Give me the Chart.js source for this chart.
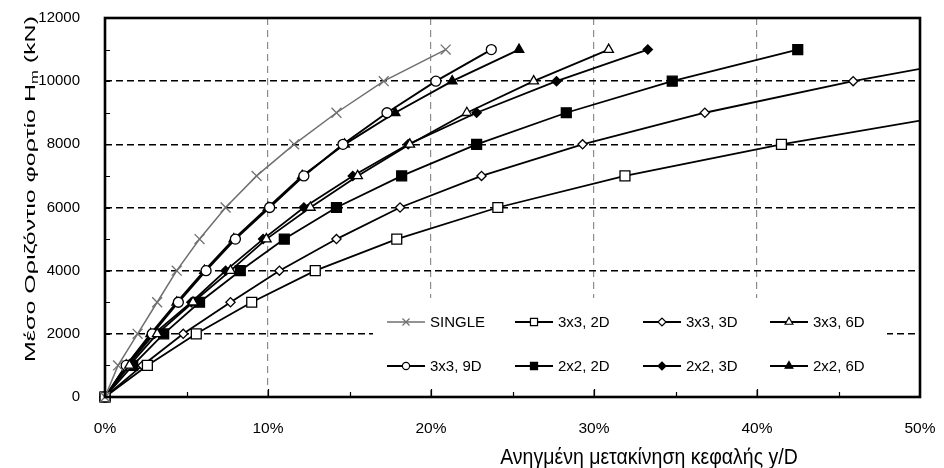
<!DOCTYPE html>
<html>
<head>
<meta charset="utf-8">
<script src="https://cdn.jsdelivr.net/npm/chart.js@4.4.1/dist/chart.umd.min.js"></script>
<style>
  html, body { margin: 0; padding: 0; background: #fff; }
  #wrap { width: 944px; height: 468px; }
</style>
</head>
<body>
<div id="wrap"><canvas id="chart" width="944" height="468"></canvas></div>
<script>
// horizontal load levels (kN) and normalised head displacement y/D (%) for each group
const loads = [0, 1000, 2000, 3000, 4000, 5000, 6000, 7000, 8000, 9000, 10000, 11000];
const single = [0, 0.8, 2.0, 3.2, 4.4, 5.8, 7.4, 9.3, 11.6, 14.2, 17.1, 20.9];
const g3x3_2D = [0, 2.6, 5.6, 9.0, 12.9, 17.9, 24.1, 31.9, 41.5, 52.8];
const g3x3_3D = [0, 2.3, 4.8, 7.7, 10.7, 14.2, 18.1, 23.1, 29.3, 36.8, 45.9, 56.5];
const g3x3_6D = [0, 1.5, 3.2, 5.4, 7.7, 9.9, 12.6, 15.5, 18.7, 22.2, 26.3, 30.9];
const g3x3_9D = [0, 1.3, 2.9, 4.5, 6.2, 8.0, 10.1, 12.2, 14.6, 17.3, 20.3, 23.7];
const g2x2_2D = [0, 1.7, 3.6, 5.8, 8.3, 11.0, 14.2, 18.2, 22.8, 28.3, 34.8, 42.5];
const g2x2_3D = [0, 1.4, 3.0, 5.3, 7.4, 9.7, 12.2, 15.2, 18.6, 22.8, 27.7, 33.3];
const g2x2_6D = [0, 1.3, 2.8, 4.4, 6.1, 7.9, 10.0, 12.1, 14.7, 17.8, 21.3, 25.4];

const xTicks = [0, 10, 20, 30, 40, 50];
const yTicks = [0, 2000, 4000, 6000, 8000, 10000, 12000];

const FONT = "'Liberation Sans', Arial, sans-serif";
const GREY = '#6f6f6f';

const series = [
  { label: 'SINGLE', xs: single, shape: 'crossRot', r: 7, lr: 5, color: GREY, fill: GREY, width: 1.5 },
  { label: '3x3, 2D', xs: g3x3_2D, shape: 'rect', r: 7, lr: 5, color: '#000', fill: '#fff', width: 1.8 },
  { label: '3x3, 3D', xs: g3x3_3D, shape: 'rectRot', r: 4.6, lr: 4, color: '#000', fill: '#fff', width: 1.8 },
  { label: '3x3, 6D', xs: g3x3_6D, shape: 'triangle', r: 5.5, lr: 4.5, color: '#000', fill: '#fff', width: 1.8 },
  { label: '3x3, 9D', xs: g3x3_9D, shape: 'circle', r: 5, lr: 3.6, color: '#000', fill: '#fff', width: 1.9 },
  { label: '2x2, 2D', xs: g2x2_2D, shape: 'rect', r: 7, lr: 5, color: '#000', fill: '#000', width: 1.8 },
  { label: '2x2, 3D', xs: g2x2_3D, shape: 'rectRot', r: 4.6, lr: 4, color: '#000', fill: '#000', width: 1.8 },
  { label: '2x2, 6D', xs: g2x2_6D, shape: 'triangle', r: 5.5, lr: 4.5, color: '#000', fill: '#000', width: 1.9 },
];

const datasets = series.map((s) => ({
  label: s.label,
  data: s.xs.map((x, i) => ({ x, y: loads[i] })),
  borderColor: s.color,
  borderWidth: s.width,
  backgroundColor: s.fill,
  pointStyle: s.shape,
  pointRadius: s.r,
  pointBackgroundColor: s.fill,
  pointBorderColor: s.color,
  pointBorderWidth: 1.3,
  tension: 0,
  clip: { left: 10, top: 6, right: 0, bottom: 10 },
}));

// white legend panel, frame, minor ticks, legend entries and axis titles
const decorations = {
  id: 'decorations',
  beforeDatasetsDraw(chart) {
    const ctx = chart.ctx;
    ctx.save();
    ctx.fillStyle = '#fff';
    ctx.fillRect(373, 298, 514, 92);
    ctx.restore();
  },
  afterDatasetsDraw(chart) {
    const { ctx, chartArea: a, scales } = chart;
    ctx.save();

    // minor ticks
    ctx.strokeStyle = '#000';
    ctx.lineWidth = 1.2;
    ctx.beginPath();
    for (let v = 1000; v < 12000; v += 1000) {
      const y = Math.round(scales.y.getPixelForValue(v)) + 0.5;
      ctx.moveTo(a.left, y);
      ctx.lineTo(a.left + 5, y);
    }
    for (let v = 5; v < 50; v += 5) {
      const x = Math.round(scales.x.getPixelForValue(v)) + 0.5;
      ctx.moveTo(x, a.bottom);
      ctx.lineTo(x, a.bottom - (v % 10 === 0 ? 8 : 5));
    }
    ctx.stroke();

    // frame
    ctx.lineWidth = 2.6;
    ctx.strokeRect(a.left, a.top, a.right - a.left, a.bottom - a.top);

    // legend
    const cols = [387, 515, 643, 770];
    const rows = [322, 366];
    ctx.font = '15px ' + FONT;
    ctx.textBaseline = 'middle';
    ctx.textAlign = 'left';
    series.forEach((s, i) => {
      const x0 = cols[i % 4];
      const y0 = rows[Math.floor(i / 4)];
      ctx.strokeStyle = s.color;
      ctx.lineWidth = s.width;
      ctx.beginPath();
      ctx.moveTo(x0, y0);
      ctx.lineTo(x0 + 38, y0);
      ctx.stroke();
      ctx.fillStyle = s.fill;
      ctx.strokeStyle = s.color;
      ctx.lineWidth = 1.2;
      Chart.helpers.drawPoint(ctx, { pointStyle: s.shape, radius: s.lr, rotation: 0, borderWidth: 1.2 }, x0 + 19, y0);
      ctx.fillStyle = '#000';
      ctx.fillText(s.label, x0 + 43, y0 + 1);
    });
    ctx.restore();

    // x title
    ctx.save();
    ctx.fillStyle = '#000';
    ctx.textBaseline = 'alphabetic';
    ctx.font = '19.5px ' + FONT;
    ctx.textAlign = 'center';
    ctx.translate(649, 464);
    ctx.scale(1, 1.1);
    ctx.fillText('Ανηγμένη μετακίνηση κεφαλής y/D', 0, 0);
    ctx.restore();

    // y title with subscript, stretched along its length
    ctx.save();
    ctx.fillStyle = '#000';
    ctx.textBaseline = 'alphabetic';
    ctx.textAlign = 'left';
    const main = 'Μέσο Οριζόντιο φορτίο H';
    const sub = 'm';
    const tail = ' (kN)';
    const bigFont = '15px ' + FONT;
    const smallFont = '10px ' + FONT;
    ctx.font = bigFont;
    const w1 = ctx.measureText(main).width;
    const w3 = ctx.measureText(tail).width;
    ctx.font = smallFont;
    const w2 = ctx.measureText(sub).width;
    const total = w1 + w2 + w3;
    ctx.translate(35, 189);
    ctx.rotate(-Math.PI / 2);
    ctx.scale(346 / total, 1);
    let x = -total / 2;
    ctx.font = bigFont;
    ctx.fillText(main, x, 0);
    x += w1;
    ctx.font = smallFont;
    ctx.fillText(sub, x, 3);
    x += w2;
    ctx.font = bigFont;
    ctx.fillText(tail, x, 0);
    ctx.restore();
  },
};

new Chart(document.getElementById('chart'), {
  type: 'line',
  data: { datasets },
  options: {
    responsive: false,
    animation: false,
    layout: { padding: { left: 0, top: 18, right: 24, bottom: 0 } },
    plugins: {
      legend: { display: false },
      tooltip: { enabled: false },
    },
    scales: {
      x: {
        type: 'linear',
        min: 0,
        max: 50,
        afterFit: (scale) => {
          scale.height = 71;
          scale.paddingLeft = 0;
          scale.paddingRight = 0;
        },
        afterBuildTicks: (scale) => { scale.ticks = xTicks.map((value) => ({ value })); },
        ticks: {
          color: '#000',
          font: { family: FONT, size: 15.5 },
          padding: 22,
          maxRotation: 0,
          callback: (v) => v + '%',
        },
        grid: {
          drawTicks: false,
          lineWidth: 1.2,
          color: (c) => (c.tick && (c.tick.value === 0 || c.tick.value === 50) ? 'rgba(0,0,0,0)' : '#8c8c8c'),
        },
        border: { display: false, dash: [7, 5] },
      },
      y: {
        type: 'linear',
        min: 0,
        max: 12000,
        afterFit: (scale) => {
          scale.width = 105;
          scale.paddingTop = 0;
          scale.paddingBottom = 0;
        },
        afterBuildTicks: (scale) => { scale.ticks = yTicks.map((value) => ({ value })); },
        ticks: {
          color: '#000',
          font: { family: FONT, size: 15 },
          padding: 25,
          callback: (v) => String(v),
        },
        grid: {
          drawTicks: false,
          lineWidth: 1.4,
          color: (c) => (c.tick && (c.tick.value === 0 || c.tick.value === 12000) ? 'rgba(0,0,0,0)' : '#000'),
        },
        border: { display: false, dash: [7, 4] },
      },
    },
  },
  plugins: [decorations],
});
</script>
</body>
</html>
